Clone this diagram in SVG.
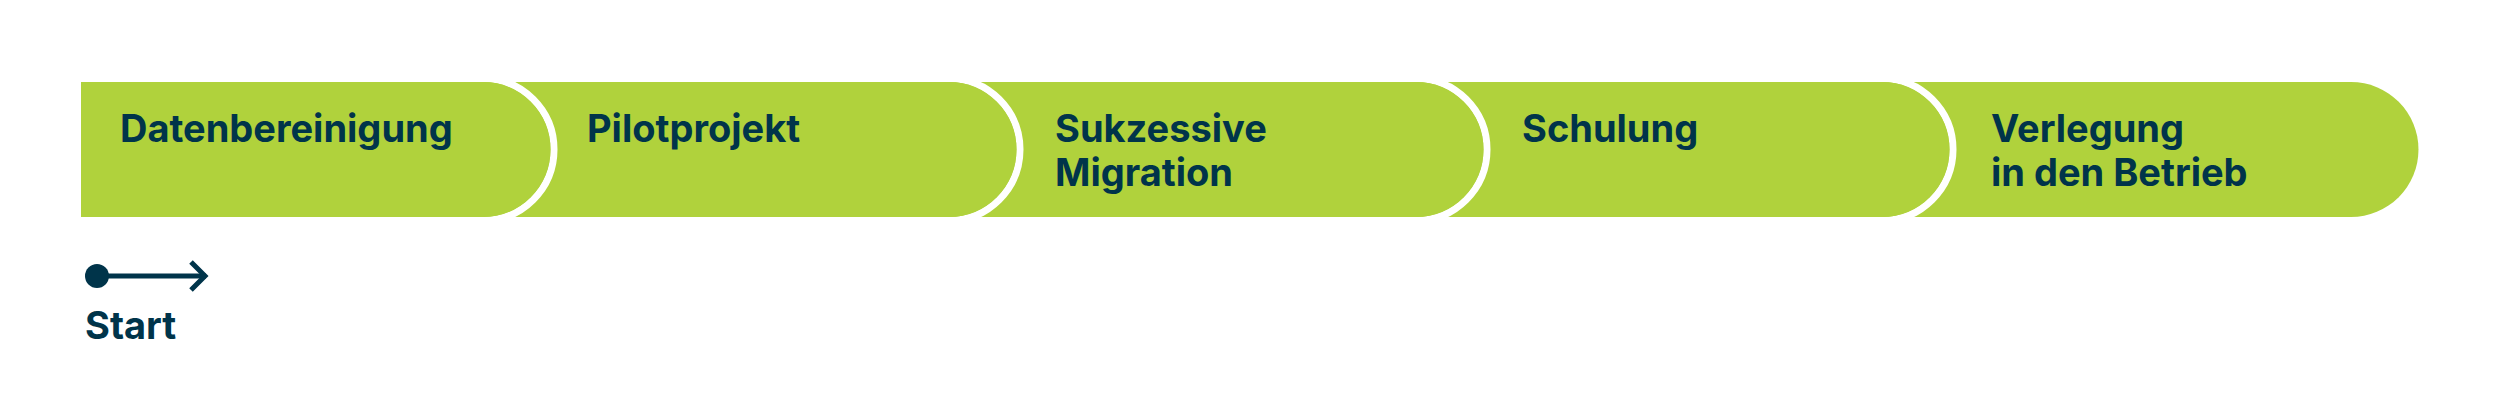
<svg xmlns="http://www.w3.org/2000/svg" width="2500" height="417" viewBox="0 0 2500 417">
<style>
.pill{fill:#b0d23c}
.sep{fill:none;stroke:#ffffff;stroke-width:7}
.lbl{font-family:Inter,"Liberation Sans",sans-serif;font-weight:700;font-size:38px;fill:#00344a}
.ln{fill:none;stroke:#00344a;stroke-width:5}
</style>
<rect width="2500" height="417" fill="#ffffff"/>
<g id="node5">
<path class="pill" d="M1882,82 H2351 A67.5,67.5 0 0 1 2351,217 H1882 Z"/>
<text class="lbl" x="1991" y="142">Verlegung</text>
<text class="lbl" x="1991" y="186">in den Betrieb</text>
</g>
<g id="node4">
<path class="sep" d="M1882,78.5 A71,71 0 0 1 1882,220.5"/>
<path class="pill" d="M1416,82 H1882 A67.5,67.5 0 0 1 1882,217 H1416 Z"/>
<text class="lbl" x="1522" y="142">Schulung</text>
</g>
<g id="node3">
<path class="sep" d="M1416,78.5 A71,71 0 0 1 1416,220.5"/>
<path class="pill" d="M949,82 H1416 A67.5,67.5 0 0 1 1416,217 H949 Z"/>
<text class="lbl" x="1055" y="142">Sukzessive</text>
<text class="lbl" x="1055" y="186">Migration</text>
</g>
<g id="node2">
<path class="sep" d="M949,78.5 A71,71 0 0 1 949,220.5"/>
<path class="pill" d="M483,82 H949 A67.5,67.5 0 0 1 949,217 H483 Z"/>
<text class="lbl" x="587" y="142">Pilotprojekt</text>
</g>
<g id="node1">
<path class="sep" d="M483,78.5 A71,71 0 0 1 483,220.5"/>
<path class="pill" d="M81,82 H483 A67.5,67.5 0 0 1 483,217 H81 Z"/>
<text class="lbl" x="120" y="142">Datenbereinigung</text>
</g>
<g id="connectors">
<circle cx="97" cy="276" r="12" fill="#00344a"/>
<line class="ln" x1="97" y1="276" x2="206" y2="276"/>
<polyline class="ln" points="191,262 205,276 191,290"/>
</g>
<g id="start">
<text class="lbl" x="85" y="339">Start</text>
</g>
</svg>
